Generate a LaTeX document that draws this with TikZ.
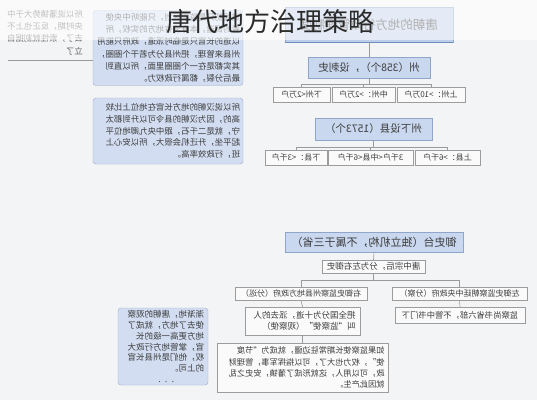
\documentclass[tikz,border=0pt]{standalone}
\usepackage{fontspec}
\newfontfamily\cjk{Noto Sans CJK SC}
\usetikzlibrary{positioning}
\definecolor{bgcol}{HTML}{F3F4F6}
\definecolor{topicfill}{HTML}{C9D8EF}
\definecolor{topicline}{HTML}{8FA5C9}
\definecolor{topfill}{HTML}{BCCFEA}
\definecolor{topbottom}{HTML}{6F8CBF}
\definecolor{notefill}{HTML}{D2DDF1}
\definecolor{noteline}{HTML}{9DAECB}
\definecolor{leaffill}{HTML}{FAFAFA}
\definecolor{leafline}{HTML}{9C9C9C}
\definecolor{linkcol}{HTML}{9A9A9A}
\definecolor{txt}{HTML}{3C3C3C}
\definecolor{titlecol}{HTML}{2A2A2A}

\begin{document}
\begin{tikzpicture}[x=1pt,y=-1pt,
	topic node/.style={xscale=-1,shape=rectangle,draw=topicline,fill=topicfill,text=txt,inner sep=0,font=\cjk\fontsize{10.5}{12}\selectfont},
	leaf node/.style={xscale=-1,shape=rectangle,draw=leafline,fill=leaffill,text=txt,inner sep=0,font=\cjk\fontsize{8}{10}\selectfont},
	note node/.style={xscale=-1,shape=rectangle,rounded corners=3,draw=noteline,fill=notefill,text=txt,inner xsep=3,inner ysep=0,align=left,font=\cjk\fontsize{8.4}{12.3}\selectfont},
	link/.style={draw=linkcol,line width=0.6},
	]
	\fill[bgcol] (0,0) rectangle (537,400);
	\useasboundingbox (0,0) rectangle (537,400);
	
	%left notes
	\node[xscale=-1,anchor=north west,inner sep=0,text width=80,align=left,text=txt!80,font=\cjk\fontsize{8.4}{12.3}\selectfont] (farleft) at (83,10) {所以说藩镇势大于中\\央时期，反正也上不\\去了，索性就割据自\\立了};
	\coordinate (cut) at (8,60);
	\node[note node,minimum width=150,minimum height=75,text width=144] (noteA) at (168,48) {道起初只是监察区划，只能听中央使\\者的调遣，本身没有地方的实权，所\\以道的长官只是临时派遣，政府只能用\\州县来管理，把州县分为若干个圈圈，\\其实都是在一个圈圈里面，所以直到\\最后分裂，都属行政权力。};
	\node[note node,minimum width=150,minimum height=66,text width=144,font=\cjk\fontsize{8.4}{11.8}\selectfont] (noteB) at (168,131) {所以说汉朝的地方长官在地位上比较\\高的，因为汉朝的县令可以升到郡太\\守，就是二千石，跟中央九卿地位平\\起平坐，升迁机会很大，所以安心上\\班，行政效率高。};
	\node[note node,minimum width=90,minimum height=77,text width=82,font=\cjk\fontsize{8.5}{10.8}\selectfont] (noteC) at (163,346.5) {渐渐地，唐朝的观察\\使去了地方，就成了\\地方更高一级的长\\官，掌管地方行政大\\权，他们是州县长官\\的上司。\\\hspace*{30pt}. . .};
	\path[link] (cut) edge (cut -| noteA.east);
	
	%zhou and xian
	\node[topic node,fill=topfill,minimum width=168,minimum height=35,font=\cjk\fontsize{12.5}{14}\selectfont] (top) at (369,24.5) {唐朝的地方行政管理制度};
	\draw[topbottom,line width=1.4] (top.south west) -- (top.south east);
	\node[topic node,minimum width=122,minimum height=21] (zhou) at (369,67.5) {州（358个），设刺史};
	\node[leaf node,minimum width=57,minimum height=15] (zl1) at (301.5,94.5) {下州<2万户};
	\node[leaf node,minimum width=63,minimum height=15] (zl2) at (363.5,94.5) {中州：>2万户};
	\node[leaf node,minimum width=68,minimum height=15] (zl3) at (431,94.5) {上州：>10万户};
	\node[topic node,minimum width=117,minimum height=22] (xian) at (373.5,129) {州下设县（1573个）};
	\node[leaf node,minimum width=62,minimum height=15] (xl1) at (296,157.5) {下县：<3千户};
	\node[leaf node,minimum width=85,minimum height=15] (xl2) at (370.5,157.5) {3千户<中县<6千户};
	\node[leaf node,minimum width=65,minimum height=15] (xl3) at (447.5,157.5) {上县：>6千户};
	\path[link] (top.south) edge (zhou.north);
	\foreach \n in {zl1,zl2,zl3}
	{
		\draw[link] (zhou.south) -- ++(0,6) -| (\n.north);
	}
	\foreach \n in {xl1,xl2,xl3}
	{
		\draw[link] (xian.south) -- ++(0,7) -| (\n.north);
	}
	
	%yushitai
	\node[topic node,minimum width=178,minimum height=20,font=\cjk\fontsize{11}{13}\selectfont] (yushi) at (374,242) {御史台（独立机构，不属于三省）};
	\node[leaf node,minimum width=103,minimum height=13,font=\cjk\fontsize{8.5}{10}\selectfont] (split) at (373.5,266.5) {唐中宗后，分为左右御史};
	\node[leaf node,minimum width=132,minimum height=13] (you) at (301,293.5) {右御史监察州县地方政府（分巡）};
	\node[leaf node,minimum width=135,minimum height=13] (zuo) at (459.5,293.5) {左御史监察朝廷中央政府（分察）};
	\node[leaf node,minimum width=130,minimum height=16,font=\cjk\fontsize{8.3}{10}\selectfont] (zuosub) at (460,315) {监察尚书省六部，不管中书门下};
	\node[leaf node,minimum width=115,minimum height=28,text width=106,align=left,font=\cjk\fontsize{8.5}{11}\selectfont] (yousub) at (302.5,321) {把全国分为十道，派去的人\\叫“监察使”（观察使）};
	\node[leaf node,minimum width=171,minimum height=49,text width=164,align=left,font=\cjk\fontsize{8.2}{11.2}\selectfont] (jiedu) at (302.5,367.5) {如果监察使长期常驻边疆，就成为“节度\\使”，权力也大了，可以指挥军事，管理财\\政，可以用人，这就形成了藩镇，安史之乱\\就因此产生。};
	\path[link] (yushi.south) edge (split.north);
	\foreach \n in {you,zuo}
	{
		\draw[link] (split.south) -- ++(0,7) -| (\n.north);
	}
	\path[link] (zuo.south) edge (zuosub.north);
	\path[link] (you.south) edge (yousub.north);
	\path[link] (yousub.south) edge (jiedu.north);
	
	%title band
	\fill[white,opacity=0.6] (0,0) rectangle (537,40);
	\node[text=titlecol,inner sep=0,font=\cjk\fontsize{26}{28}\selectfont] (title) at (270,21) {唐代地方治理策略};
\end{tikzpicture}
\end{document}
